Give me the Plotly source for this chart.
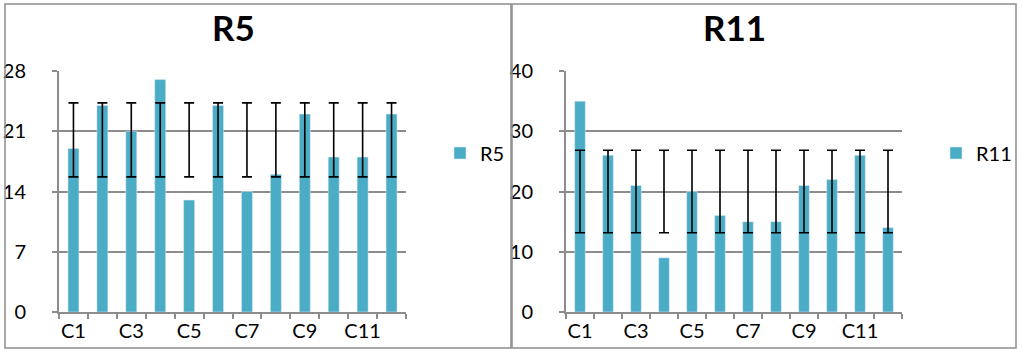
import plotly.graph_objects as go

categories = ["C1", "C2", "C3", "C4", "C5", "C6", "C7", "C8", "C9", "C10", "C11", "C12"]
tick_labels = ["C1", "", "C3", "", "C5", "", "C7", "", "C9", "", "C11", ""]
r5_values = [19, 24, 21, 27, 13, 24, 14, 16, 23, 18, 18, 23]
r11_values = [35, 26, 21, 9, 20, 16, 15, 15, 21, 22, 26, 14]
# error bars: centre and half-width (same for every category)
r5_err_center = [20] * 12
r5_err_half = [4.3] * 12
r11_err_center = [20] * 12
r11_err_half = [6.85] * 12
r5_ticks = [0, 7, 14, 21, 28]
r11_ticks = [0, 10, 20, 30, 40]

BAR = "#4BACC6"
GRID = "#8C8C8C"
FONT = "Lato, 'Open Sans', sans-serif"
W, H = 1022, 354

def px(x):
    return x / W

def py(y):
    return 1 - y / H

fig = go.Figure()

fig.add_trace(go.Bar(x=categories, y=r5_values, name="R5", marker_color=BAR,
                     xaxis="x", yaxis="y", legend="legend", width=0.38))
fig.add_trace(go.Scatter(x=categories, y=r5_err_center, mode="markers",
                         marker=dict(opacity=0, size=1), showlegend=False,
                         error_y=dict(type="data", array=r5_err_half, color="black",
                                      thickness=1.6, width=5),
                         xaxis="x", yaxis="y", hoverinfo="skip"))
fig.add_trace(go.Bar(x=categories, y=r11_values, name="R11", marker_color=BAR,
                     xaxis="x2", yaxis="y2", legend="legend2", width=0.38))
fig.add_trace(go.Scatter(x=categories, y=r11_err_center, mode="markers",
                         marker=dict(opacity=0, size=1), showlegend=False,
                         error_y=dict(type="data", array=r11_err_half, color="black",
                                      thickness=1.6, width=5),
                         xaxis="x2", yaxis="y2", hoverinfo="skip"))

tickfont = dict(family=FONT, size=20, color="black")

def xaxis(domain, anchor):
    return dict(domain=domain, anchor=anchor, type="category",
                range=[-0.5, len(categories) - 0.5],
                tickmode="array", tickvals=categories, ticktext=tick_labels,
                tickson="boundaries", ticks="outside", ticklen=5, tickwidth=2,
                tickcolor=GRID, showline=True, linecolor=GRID, linewidth=2,
                showgrid=False, tickfont=tickfont, tickangle=0,
                automargin=False, fixedrange=True)

def yaxis(domain, anchor, ticks):
    return dict(domain=domain, anchor=anchor, range=[0, ticks[-1]],
                tickmode="array", tickvals=ticks, ticks="outside", ticklen=5,
                tickwidth=2, tickcolor=GRID, showline=True, linecolor=GRID,
                linewidth=2, showgrid=True, gridcolor=GRID, gridwidth=2,
                zeroline=False, tickfont=tickfont, ticklabelstandoff=22,
                automargin=False, fixedrange=True)

ydom = [py(312), py(71)]
fig.update_layout(
    width=W, height=H, margin=dict(l=0, r=0, t=0, b=0, autoexpand=False),
    paper_bgcolor="white", plot_bgcolor="white",
    barmode="overlay", bargap=0.62,
    font=dict(family=FONT, size=20, color="black"),
    xaxis=xaxis([px(59), px(406)], "y"),
    yaxis=yaxis(ydom, "x", r5_ticks),
    xaxis2=xaxis([px(566), px(902)], "y2"),
    yaxis2=yaxis(ydom, "x2", r11_ticks),
    legend=dict(x=px(440), y=py(153), xanchor="left", yanchor="middle",
                font=dict(family=FONT, size=20), bgcolor="rgba(0,0,0,0)"),
    legend2=dict(x=px(936), y=py(153), xanchor="left", yanchor="middle",
                 font=dict(family=FONT, size=20), bgcolor="rgba(0,0,0,0)"),
    annotations=[
        dict(text="<b>R5</b>", x=px(233), y=py(27), xref="paper", yref="paper",
             xanchor="center", yanchor="middle", showarrow=False,
             font=dict(family=FONT, size=35, color="black")),
        dict(text="<b>R11</b>", x=px(734), y=py(27), xref="paper", yref="paper",
             xanchor="center", yanchor="middle", showarrow=False,
             font=dict(family=FONT, size=35, color="black")),
    ],
    shapes=[
        dict(type="rect", xref="paper", yref="paper", x0=px(5), x1=px(511),
             y0=py(348), y1=py(4), line=dict(color=GRID, width=1.5)),
        dict(type="rect", xref="paper", yref="paper", x0=px(512), x1=px(1016),
             y0=py(348), y1=py(4), line=dict(color=GRID, width=1.5)),
    ],
)

fig.write_html("out.html")
